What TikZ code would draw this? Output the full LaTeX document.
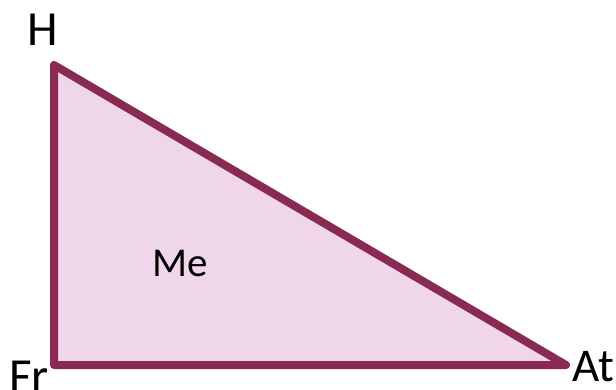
\documentclass[tikz,border=0pt]{standalone}
\usepackage{fontspec}
\setmainfont{Carlito}
\definecolor{edgecol}{RGB}{136,42,82}
\definecolor{fillcol}{RGB}{240,214,234}
\begin{document}
\begin{tikzpicture}[x=1pt,y=-1pt,
  lbl/.style={font=\fontsize{49}{55}\selectfont, anchor=base, inner sep=0pt},
  mlbl/.style={font=\fontsize{41}{46}\selectfont, anchor=base, inner sep=0pt}]
\useasboundingbox (0,0) rectangle (616,389);
\coordinate (h) at (54,65);
\coordinate (fr) at (54,365);
\coordinate (at) at (566,365);
\draw[edgecol, fill=fillcol, line width=8pt, line join=round] (h) -- (fr) -- (at) -- cycle;
\node[lbl] (lh) at (43,45) {H};
\node[lbl] (lfr) at (29,392) {Fr};
\node[lbl, font=\fontsize{47}{52}\selectfont] (lat) at (593,381) {At};
\node[mlbl] (lme) at (180,276) {Me};
\end{tikzpicture}
\end{document}
